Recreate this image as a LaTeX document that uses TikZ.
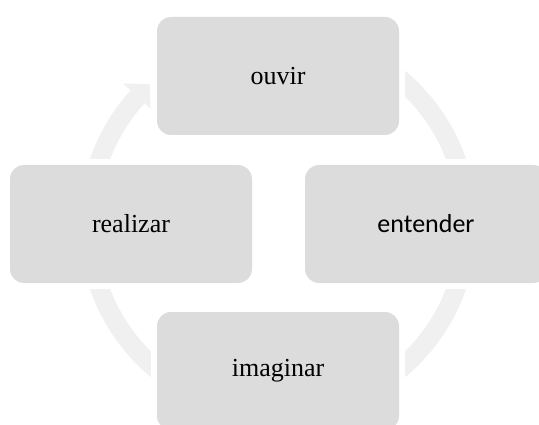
\documentclass[tikz,border=0pt]{standalone}
\usepackage{fontspec}
\usetikzlibrary{calc}
\setmainfont{Liberation Serif}
\newfontfamily\calib{Carlito}
\definecolor{boxgray}{HTML}{DCDCDC}
\definecolor{ringgray}{HTML}{F0F0F0}
\tikzset{
  cyclebox/.style={fill=boxgray, rounded corners=14pt, minimum width=242pt, minimum height=118pt, inner sep=0pt, font=\fontsize{26}{31}\selectfont, text=black},
  boxmargin/.style={fill=white, rounded corners=20pt, minimum width=254pt, minimum height=130pt, inner sep=0pt},
  ring/.style={draw=ringgray, line width=19pt}
}
\begin{document}
\begin{tikzpicture}[x=1pt,y=1pt]
\useasboundingbox (0,0) rectangle (539,424);
\clip (0,0) rectangle (539,424);
\fill[white] (0,0) rectangle (539,424);
\coordinate (c) at (278,200);
% ring with arrowhead
\draw[ring] (c) ++(90:189.5) arc[start angle=90, end angle=-222.2, radius=189.5];
\fill[ringgray] ($(c)+(137.8:209)$) -- ($(c)+(132.5:190)$) -- ($(c)+(137.8:172)$) -- cycle;
% white margins
\foreach \p in {(278,348),(131,200),(426,200),(278,53)} {
  \node[boxmargin] at \p {};
}
% boxes
\node[cyclebox] (ouvir) at (278,348) {ouvir};
\node[cyclebox] (entender) at (426,200) {\calib entender};
\node[cyclebox] (imaginar) at (278,53) {imaginar};
\node[cyclebox] (realizar) at (131,200) {realizar};
\end{tikzpicture}
\end{document}
